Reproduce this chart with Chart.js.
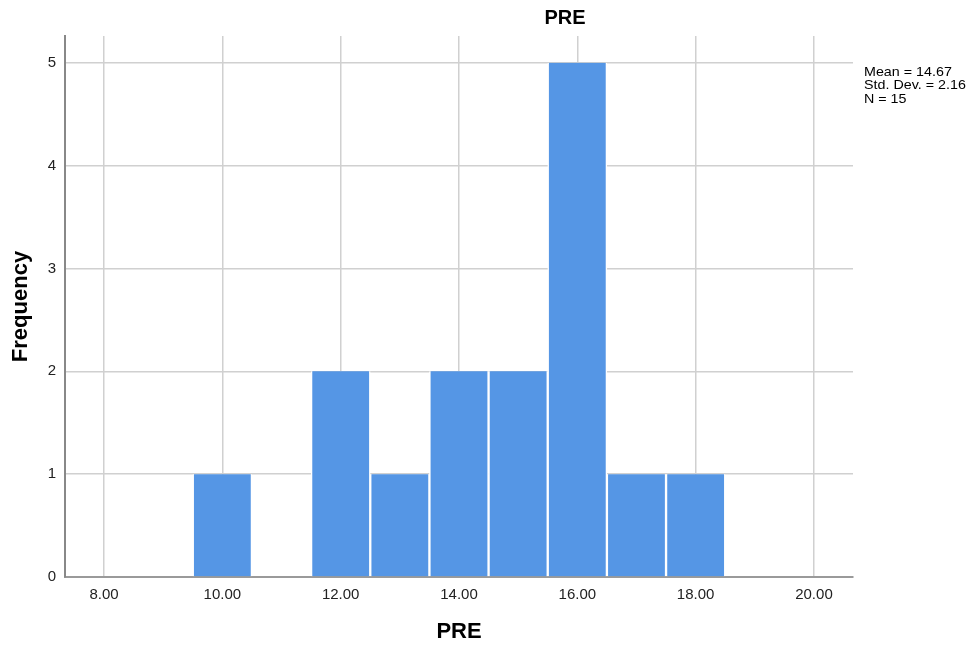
<!DOCTYPE html>
<html>
<head>
<meta charset="utf-8">
<script src="https://cdn.jsdelivr.net/npm/chart.js@4/dist/chart.umd.min.js"></script>
<style>
  html, body { margin: 0; padding: 0; background: #ffffff; }
  #wrap { width: 977px; height: 648px; }
</style>
</head>
<body>
<div id="wrap"><canvas id="c" width="977" height="648"></canvas></div>
<script>
// ---- data ----
const chartTitle = "PRE";
const xAxisTitle = "PRE";
const yAxisTitle = "Frequency";
const binCenters = [10, 12, 13, 14, 15, 16, 17, 18];
const frequencies = [1, 2, 1, 2, 2, 5, 1, 1];
const xTickValues = [8, 10, 12, 14, 16, 18, 20];
const yTickValues = [0, 1, 2, 3, 4, 5];
const xRange = [7.34, 20.66];
const yRange = [0, 5.26];
const statsLines = ["Mean = 14.67", "Std. Dev. = 2.16", "N = 15"];

const FONT = "'Liberation Sans', Arial, Helvetica, sans-serif";

const points = binCenters.map((x, i) => ({ x: x, y: frequencies[i] }));

const annotationPlugin = {
  id: 'spssText',
  afterDraw(chart) {
    const ctx = chart.ctx;
    const area = chart.chartArea;
    ctx.save();
    // top title
    ctx.fillStyle = '#000000';
    ctx.font = "bold 20px " + FONT;
    ctx.textAlign = 'center';
    ctx.textBaseline = 'alphabetic';
    ctx.fillText(chartTitle, 565, 24);
    ctx.restore();
    // statistics box (text slightly condensed vertically as in the reference)
    const sy = 0.91;
    ctx.save();
    ctx.font = "14.3px " + FONT;
    ctx.textAlign = 'left';
    ctx.textBaseline = 'alphabetic';
    ctx.fillStyle = '#000000';
    ctx.scale(1, sy);
    statsLines.forEach((line, i) => {
      ctx.fillText(line, area.right + 11, (75.5 + i * 13.7) / sy);
    });
    ctx.restore();
  }
};

new Chart(document.getElementById('c'), {
  type: 'bar',
  data: {
    datasets: [{
      data: points,
      backgroundColor: '#5596e5',
      borderColor: '#ffffff',
      borderWidth: { left: 1.5, right: 1.5, top: 0, bottom: 0 },
      borderSkipped: false,
      barPercentage: 1.0,
      categoryPercentage: 1.0
    }]
  },
  options: {
    responsive: false,
    animation: false,
    devicePixelRatio: 1,
    layout: { padding: { top: 36, right: 124, left: 0, bottom: 0 } },
    plugins: {
      legend: { display: false },
      tooltip: { enabled: false },
      title: { display: false }
    },
    scales: {
      x: {
        type: 'linear',
        min: xRange[0],
        max: xRange[1],
        offset: false,
        afterBuildTicks: (scale) => { scale.ticks = xTickValues.map(v => ({ value: v })); },
        afterFit: (scale) => { scale.height = 71; },
        grid: { offset: false, color: '#d0d0d0', lineWidth: 1.5, drawTicks: false },
        border: { display: true, color: '#9a9a9a', width: 2 },
        ticks: {
          padding: 9,
          color: '#222222',
          font: { family: FONT, size: 15 },
          maxRotation: 0,
          autoSkip: false,
          callback: (v) => Number(v).toFixed(2)
        },
        title: {
          display: true,
          text: xAxisTitle,
          color: '#000000',
          font: { family: FONT, size: 22, weight: 'bold' },
          padding: { top: 0, bottom: 3 }
        }
      },
      y: {
        type: 'linear',
        min: yRange[0],
        max: yRange[1],
        afterBuildTicks: (scale) => { scale.ticks = yTickValues.map(v => ({ value: v })); },
        afterFit: (scale) => { scale.width = 65; },
        grid: { color: '#d0d0d0', lineWidth: 1.5, drawTicks: false },
        border: { display: true, color: '#888888', width: 2 },
        ticks: {
          padding: 9,
          color: '#222222',
          font: { family: FONT, size: 15 },
          autoSkip: false
        },
        title: {
          display: true,
          text: yAxisTitle,
          color: '#000000',
          font: { family: FONT, size: 22, weight: 'bold' },
          padding: { top: 8, bottom: 0 }
        }
      }
    }
  },
  plugins: [annotationPlugin]
});
</script>
</body>
</html>
